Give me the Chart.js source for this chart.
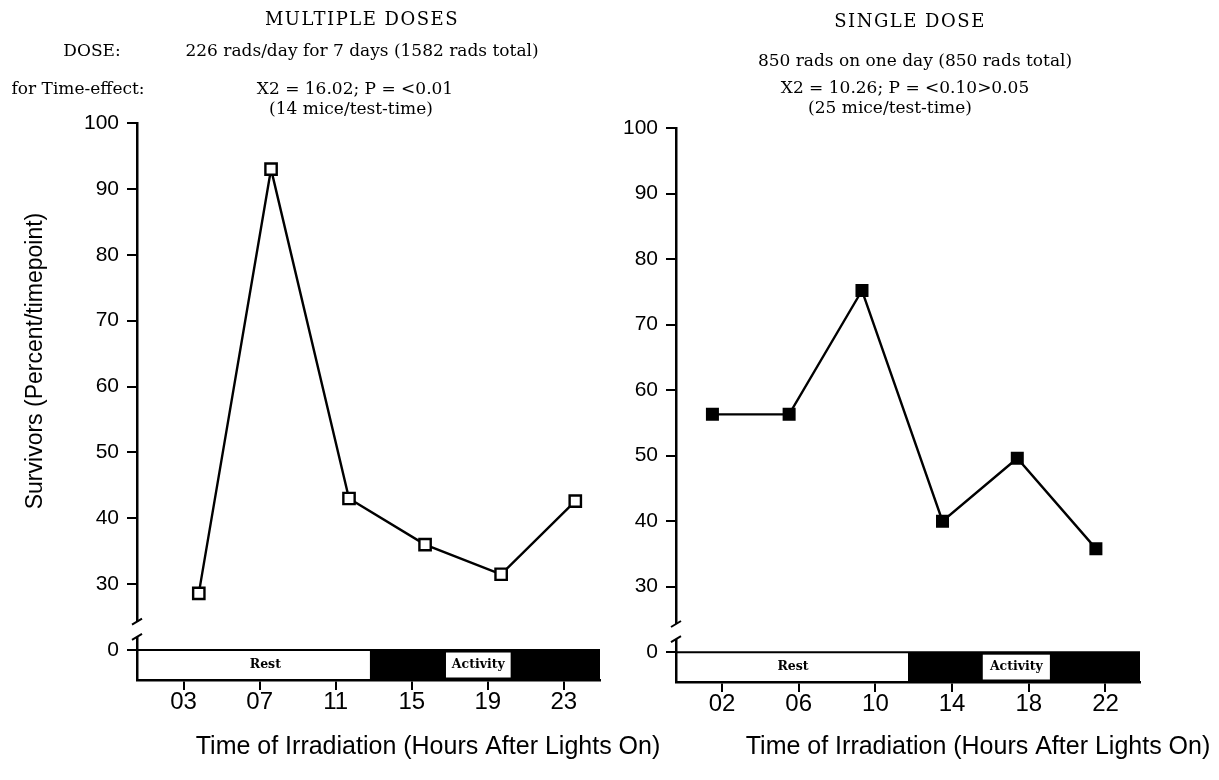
<!DOCTYPE html>
<html>
<head>
<meta charset="utf-8">
<script src="https://cdn.jsdelivr.net/npm/chart.js@4.4.1/dist/chart.umd.min.js"></script>
<style>
  html, body { margin: 0; padding: 0; background: #fff; }
  #wrap { position: relative; width: 1219px; height: 780px; overflow: hidden; }
  canvas { position: absolute; top: 0; }
  #multi { left: 0; }
  #single { left: 620px; }
</style>
</head>
<body>
<div id="wrap">
  <canvas id="multi" width="700" height="780"></canvas>
  <canvas id="single" width="599" height="780"></canvas>
</div>
<script>
// Multiple doses: 226 rads/day for 7 days
const multiHours = [3.8, 7.6, 11.7, 15.7, 19.7, 23.6];
const multiSurvivors = [28.6, 93.0, 43.0, 36.0, 31.5, 42.6];
const multiTickHours = [3, 7, 11, 15, 19, 23];

// Single dose: 850 rads on one day
const singleHours = [1.5, 5.5, 9.3, 13.5, 17.4, 21.5];
const singleSurvivors = [56.3, 56.3, 75.2, 40.0, 49.6, 35.8];
const singleTickHours = [2, 6, 10, 14, 18, 22];

// Survivor axis is broken below 30; the lowest tick stands for 0
const yTickValues = [20, 30, 40, 50, 60, 70, 80, 90, 100];
const yTickLabels = ['0', '30', '40', '50', '60', '70', '80', '90', '100'];

// Light/dark schedule shown under each panel (hours after lights on)
const multiDarkFrom = 12.8;
const multiActivityLabel = [16.8, 20.2];
const multiRestLabelAt = 7.3;
const singleDarkFrom = 11.7;
const singleActivityLabel = [15.6, 19.1];
const singleRestLabelAt = 5.7;

const multiHeader = [
  'MULTIPLE DOSES',
  'DOSE:',
  '226 rads/day for 7 days (1582 rads total)',
  'for Time-effect:',
  'X2 = 16.02; P = <0.01',
  '(14 mice/test-time)'
];
const singleHeader = [
  'SINGLE DOSE',
  '850 rads on one day (850 rads total)',
  'X2 = 10.26; P = <0.10>0.05',
  '(25 mice/test-time)'
];
const yTitle = 'Survivors (Percent/timepoint)';
const xTitle = 'Time of Irradiation (Hours After Lights On)';

const SANS = '"Liberation Sans", Arial, sans-serif';
const SERIF = '"DejaVu Serif", serif';

function panelDecor(cfg) {
  return {
    id: 'panelDecor',
    afterDraw(chart) {
      const { ctx, chartArea: a, scales: { x, y } } = chart;
      ctx.save();

      // light/dark bar between the "0" line and the time axis
      const top = y.getPixelForValue(yTickValues[0]);
      const bot = a.bottom;
      const dark = x.getPixelForValue(cfg.darkFrom);
      ctx.fillStyle = '#000';
      ctx.fillRect(dark, top, a.right - dark, bot - top);
      ctx.strokeStyle = '#000';
      ctx.lineWidth = 2;
      ctx.beginPath();
      ctx.moveTo(a.left, top);
      ctx.lineTo(a.right, top);
      ctx.moveTo(a.right - 1, top);
      ctx.lineTo(a.right - 1, bot);
      ctx.stroke();

      const a0 = x.getPixelForValue(cfg.activity[0]);
      const a1 = x.getPixelForValue(cfg.activity[1]);
      ctx.fillStyle = '#fff';
      ctx.fillRect(a0, top + 2.5, a1 - a0, bot - top - 5);
      ctx.fillStyle = '#000';
      ctx.font = 'bold 12.5px ' + SERIF;
      ctx.textAlign = 'center';
      ctx.textBaseline = 'middle';
      ctx.fillText('Activity', (a0 + a1) / 2, (top + bot) / 2);
      ctx.fillText('Rest', x.getPixelForValue(cfg.restAt), (top + bot) / 2);

      // axis break between 30 and 0
      const ax = a.left;
      const yHi = y.getPixelForValue(24.3);
      const yLo = y.getPixelForValue(22.0);
      ctx.fillStyle = '#fff';
      ctx.fillRect(ax - 3, yHi, 6, yLo - yHi);
      ctx.lineWidth = 2;
      ctx.beginPath();
      ctx.moveTo(ax - 5, yHi + 3); ctx.lineTo(ax + 5, yHi - 3);
      ctx.moveTo(ax - 5, yLo + 3); ctx.lineTo(ax + 5, yLo - 3);
      ctx.stroke();

      // header lines (first line is the panel heading)
      ctx.fillStyle = '#000';
      ctx.textAlign = 'center';
      ctx.textBaseline = 'middle';
      cfg.header.forEach((t, i) => {
        const pos = cfg.headerPos[i];
        if (i === 0) {
          ctx.font = '18px ' + SERIF;
          ctx.letterSpacing = '1.5px';
        } else {
          ctx.font = '17px ' + SERIF;
          ctx.letterSpacing = '0px';
        }
        ctx.fillText(t, pos[0] - cfg.offsetX, pos[1]);
      });
      ctx.letterSpacing = '0px';

      // axis titles
      ctx.font = '25px ' + SANS;
      ctx.fillText(xTitle, cfg.xTitlePos[0] - cfg.offsetX, cfg.xTitlePos[1]);
      if (cfg.yTitlePos) {
        ctx.font = '23px ' + SANS;
        ctx.translate(cfg.yTitlePos[0] - cfg.offsetX, cfg.yTitlePos[1]);
        ctx.rotate(-Math.PI / 2);
        ctx.fillText(yTitle, 0, 0);
      }
      ctx.restore();
    }
  };
}

function makePanel(canvasId, cfg) {
  return new Chart(document.getElementById(canvasId), {
    type: 'line',
    data: {
      datasets: [{
        data: cfg.hours.map((h, i) => ({ x: h, y: cfg.values[i] })),
        borderColor: '#000',
        borderWidth: 2.4,
        tension: 0,
        pointStyle: 'rect',
        pointRadius: cfg.filled ? 7.5 : 8,
        pointBorderWidth: 2.4,
        pointBorderColor: '#000',
        pointBackgroundColor: cfg.filled ? '#000' : '#fff'
      }]
    },
    options: {
      responsive: false,
      animation: false,
      devicePixelRatio: 1,
      layout: { padding: { top: cfg.padTop, right: cfg.padRight, left: 0, bottom: 0 } },
      plugins: { legend: { display: false }, tooltip: { enabled: false } },
      scales: {
        x: {
          type: 'linear',
          min: cfg.xMin,
          max: cfg.xMax,
          afterBuildTicks: s => { s.ticks = cfg.ticks.map(v => ({ value: v })); },
          afterFit: s => { s.height = cfg.xHeight; },
          ticks: {
            autoSkip: false,
            maxRotation: 0,
            padding: -2,
            color: '#000',
            font: { family: SANS, size: 24 },
            callback: v => String(v).padStart(2, '0')
          },
          grid: { drawOnChartArea: false, drawTicks: true, tickLength: 10, color: '#000', lineWidth: 2 },
          border: { display: true, color: '#000', width: 2.5 }
        },
        y: {
          type: 'linear',
          min: 15.45,
          max: 100,
          afterBuildTicks: s => { s.ticks = yTickValues.map(v => ({ value: v })); },
          afterFit: s => { s.width = cfg.yWidth; },
          ticks: {
            padding: 8,
            color: '#000',
            font: { family: SANS, size: 21 },
            callback: v => yTickLabels[yTickValues.indexOf(v)]
          },
          grid: { drawOnChartArea: false, drawTicks: true, tickLength: 10, color: '#000', lineWidth: 2 },
          border: { display: true, color: '#000', width: 2.5 }
        }
      }
    },
    plugins: [panelDecor(cfg)]
  });
}

makePanel('multi', {
  hours: multiHours, values: multiSurvivors, ticks: multiTickHours, filled: false,
  xMin: 0.55, xMax: 24.9, padTop: 123, padRight: 100, yWidth: 137, xHeight: 100,
  darkFrom: multiDarkFrom, activity: multiActivityLabel, restAt: multiRestLabelAt,
  offsetX: 0,
  header: multiHeader,
  headerPos: [[362, 20], [92, 52], [362, 52], [78, 90], [355, 90], [351, 110]],
  xTitlePos: [428, 747],
  yTitlePos: [36, 361]
});

makePanel('single', {
  hours: singleHours, values: singleSurvivors, ticks: singleTickHours, filled: true,
  xMin: -0.4, xMax: 23.8, padTop: 128, padRight: 79, yWidth: 56, xHeight: 98,
  darkFrom: singleDarkFrom, activity: singleActivityLabel, restAt: singleRestLabelAt,
  offsetX: 620,
  header: singleHeader,
  headerPos: [[910, 22], [915, 62], [905, 89], [890, 109]],
  xTitlePos: [978, 747],
  yTitlePos: null
});
</script>
</body>
</html>
